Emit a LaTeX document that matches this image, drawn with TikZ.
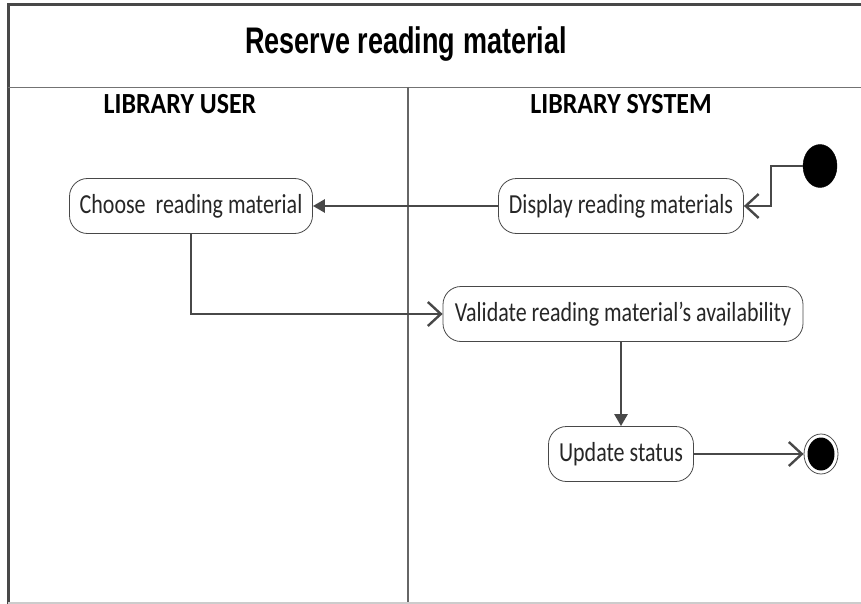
\documentclass[tikz,border=0pt]{standalone}
\usepackage{fontspec}
\setmainfont{Carlito}
\newfontfamily\titlefont{Liberation Sans}
\usetikzlibrary{arrows.meta,shapes.geometric}
\definecolor{lc}{HTML}{484848}
\newcommand{\acttext}[1]{\scalebox{1}[1.25]{#1}}
\begin{document}
\begin{tikzpicture}[x=1pt,y=-1pt,
  act/.style={draw=lc,line width=0.8pt,rounded corners=18pt,minimum height=55pt,inner xsep=8pt,font=\fontsize{22}{24}\selectfont,text=black!85},
  flow/.style={draw=lc,line width=2.6pt},
  openhead/.style={-{Straight Barb[length=13pt,width=24pt,line width=2.4pt]}},
  filledhead/.style={-{Triangle[length=12pt,width=13pt]}},
  lane/.style={font=\bfseries\fontsize{27}{30}\selectfont}]
\useasboundingbox (0,0) rectangle (861,604);
% frame
\draw[draw=lc,line width=3pt] (8,604) -- (8,5) -- (861,5);
\draw[draw=black!55,line width=0.9pt] (8,87) -- (861,87);
\draw[draw=black!60,line width=1.2pt] (408,87) -- (408,604);
\draw[draw=black!20,line width=1.5pt] (8,603) -- (861,603);
% title and lanes
\node (title) at (406,44) {\titlefont\bfseries\fontsize{37}{40}\selectfont\scalebox{0.73}[1]{Reserve reading material}};
\node[lane] (lu) at (180,104) {\scalebox{0.96}[1.08]{LIBRARY USER}};
\node[lane] (ls) at (621,104) {\scalebox{0.96}[1.08]{LIBRARY SYSTEM}};
% activities
\node[act,minimum width=243pt] (choose) at (191,206) {\acttext{Choose\ \ reading material}};
\node[act,minimum width=245pt] (display) at (621,206) {\acttext{Display reading materials}};
\node[act,minimum width=360pt] (validate) at (623,314) {\acttext{Validate reading material’s availability}};
\node[act,minimum width=145pt] (update) at (621,454) {\acttext{Update status}};
% start and end
\node[ellipse,fill=black,draw=black,minimum width=34pt,minimum height=43pt,inner sep=0pt] (start) at (820,166) {};
\node[ellipse,draw=black!70,line width=0.8pt,minimum width=34pt,minimum height=40pt,inner sep=0pt] (end) at (821,454) {};
\node[ellipse,fill=black,minimum width=27pt,minimum height=33pt,inner sep=0pt] (endin) at (821,454) {};
% flows
\draw[flow,openhead] (start.west) -- (771,166) |- (display.east);
\draw[flow,filledhead] (display.west) -- (choose.east);
\draw[flow,openhead] (choose.south) |- (validate.west);
\draw[flow,filledhead] (validate.south -| update.north) -- (update.north);
\draw[flow,openhead] (update.east) -- (end.west);
\end{tikzpicture}
\end{document}
